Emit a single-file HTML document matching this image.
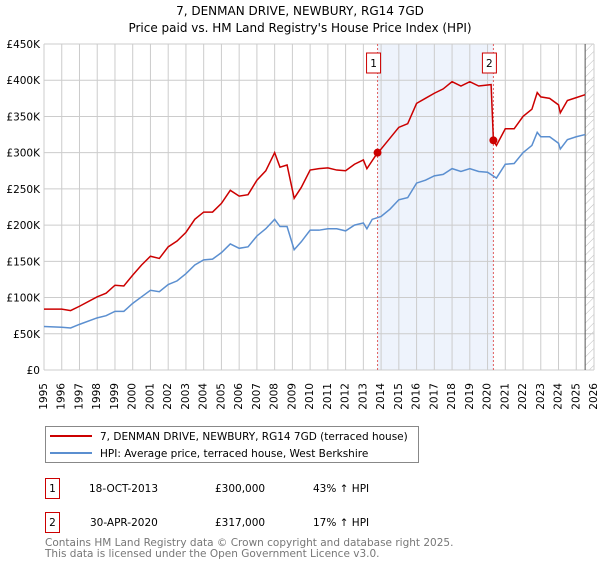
<!DOCTYPE html>
<html><head><meta charset="utf-8"><style>
body{margin:0;background:#fff;font-family:"DejaVu Sans","Liberation Sans",sans-serif;}
svg text{font-family:"DejaVu Sans","Liberation Sans",sans-serif;}
</style></head><body>
<svg id="c" width="600" height="560" viewBox="0 0 600 560" xmlns="http://www.w3.org/2000/svg">
<text x="300" y="15" text-anchor="middle" font-size="12">7, DENMAN DRIVE, NEWBURY, RG14 7GD</text>
<text x="300" y="32" text-anchor="middle" font-size="12">Price paid vs. HM Land Registry's House Price Index (HPI)</text>
<defs><pattern id="hatch" width="6" height="6" patternUnits="userSpaceOnUse" patternTransform="rotate(45)"><line x1="0" y1="0" x2="0" y2="6" stroke="#bbb" stroke-width="1"/></pattern></defs>
<g id="plot"></g>
<rect x="45.5" y="426.5" width="373" height="36" fill="#fff" stroke="#888"/>
<line x1="50" y1="436" x2="92" y2="436" stroke="#cc0000" stroke-width="2"/>
<text x="100" y="440" font-size="10.5">7, DENMAN DRIVE, NEWBURY, RG14 7GD (terraced house)</text>
<line x1="50" y1="453" x2="92" y2="453" stroke="#5b8fd0" stroke-width="2"/>
<text x="100" y="457" font-size="10.5">HPI: Average price, terraced house, West Berkshire</text>
<g font-size="10.5">
<rect x="45.5" y="478.5" width="14" height="20" fill="#fff" stroke="#cc0000"/>
<text x="52.5" y="492" text-anchor="middle">1</text>
<text x="89" y="492">18-OCT-2013</text><text x="215" y="492">£300,000</text><text x="313" y="492">43% ↑ HPI</text></g>
<g font-size="10.5">
<rect x="45.5" y="512.5" width="14" height="20" fill="#fff" stroke="#cc0000"/>
<text x="52.5" y="526" text-anchor="middle">2</text>
<text x="90" y="526">30-APR-2020</text><text x="215" y="526">£317,000</text><text x="313" y="526">17% ↑ HPI</text></g>
<text x="45" y="546" font-size="10.5" fill="#777">Contains HM Land Registry data © Crown copyright and database right 2025.</text>
<text x="45" y="557" font-size="10.5" fill="#777">This data is licensed under the Open Government Licence v3.0.</text>
</svg>
<script>
const hpiYears=[1995,1996,1996.5,1997,1998,1998.5,1999,1999.5,2000,2000.5,2001,2001.5,2002,2002.5,2003,2003.5,2004,2004.5,2005,2005.5,2006,2006.5,2007,2007.5,2008,2008.3,2008.7,2009.1,2009.5,2010,2010.5,2011,2011.5,2012,2012.5,2013,2013.2,2013.5,2014,2014.5,2015,2015.5,2016,2016.5,2017,2017.5,2018,2018.5,2019,2019.5,2020,2020.5,2021,2021.5,2022,2022.5,2022.8,2023,2023.5,2024,2024.1,2024.5,2025,2025.5];
const hpiValues=[60,59,58,63,72,75,81,81,92,101,110,108,118,123,133,145,152,153,162,174,168,170,185,195,208,198,198,166,177,193,193,195,195,192,200,203,195,208,212,222,235,238,258,262,268,270,278,274,278,274,273,265,284,285,300,310,328,322,322,313,305,318,322,325];
const priceYears=[1995,1996,1996.5,1997,1998,1998.5,1999,1999.5,2000,2000.5,2001,2001.5,2002,2002.5,2003,2003.5,2004,2004.5,2005,2005.5,2006,2006.5,2007,2007.5,2008,2008.3,2008.7,2009.1,2009.5,2010,2010.5,2011,2011.5,2012,2012.5,2013,2013.2,2013.8,2014,2014.5,2015,2015.5,2016,2016.5,2017,2017.5,2018,2018.5,2019,2019.5,2020.2,2020.33,2020.5,2021,2021.5,2022,2022.5,2022.8,2023,2023.5,2024,2024.1,2024.5,2025,2025.5];
const priceValues=[84,84,82,88,101,106,117,116,131,145,157,154,170,178,190,208,218,218,230,248,240,242,262,275,300,280,283,237,252,276,278,279,276,275,284,290,278,300,305,320,335,340,368,375,382,388,398,392,398,392,394,317,310,333,333,350,360,383,377,375,366,355,372,376,380];
const saleYears=[2013.8,2020.33];
const saleValues=[300,317];
const yTicks=[0,50,100,150,200,250,300,350,400,450];
const yTickLabels=["£0","£50K","£100K","£150K","£200K","£250K","£300K","£350K","£400K","£450K"];
const xTicks=[1995,1996,1997,1998,1999,2000,2001,2002,2003,2004,2005,2006,2007,2008,2009,2010,2011,2012,2013,2014,2015,2016,2017,2018,2019,2020,2021,2022,2023,2024,2025,2026];

const L=44,R=594,T=44,B=370,NS="http://www.w3.org/2000/svg";
const xs=y=>L+(y-1995)/(2026-1995)*(R-L);
const ys=v=>B-v/450*(B-T);
const g=document.getElementById('plot');
function mk(t,a){const e=document.createElementNS(NS,t);for(const k in a)e.setAttribute(k,a[k]);g.appendChild(e);return e;}
let e;
e=mk('rect',{x:xs(saleYears[0]),y:T,width:xs(saleYears[1])-xs(saleYears[0]),height:B-T,fill:'#eef3fc'});


e=mk('rect',{x:xs(2025.5),y:T,width:R-xs(2025.5),height:B-T,fill:'url(#hatch)'});


xTicks.forEach(t=>{
 e=mk('line',{x1:xs(t),x2:xs(t),y1:T,y2:B,stroke:'#ccc','stroke-width':1});
 
 
 const x=xs(t),y=383;
 e=mk('text',{x:x,y:y,'font-size':10.5,'text-anchor':'end','dominant-baseline':'middle',transform:`rotate(-90 ${x} ${y})`});
 e.textContent=t;
 
 
});
yTicks.forEach((t,i)=>{
 e=mk('line',{x1:L,x2:R,y1:ys(t),y2:ys(t),stroke:'#ccc','stroke-width':1});
 
 
 e=mk('text',{x:L-4,y:ys(t)+4,'font-size':10.5,'text-anchor':'end'});
 e.textContent=yTickLabels[i];
 
 
});
e=mk('line',{x1:xs(2025.5),x2:xs(2025.5),y1:T,y2:B,stroke:'#555','stroke-width':1});


saleYears.forEach((s,i)=>{
 e=mk('line',{x1:xs(s),x2:xs(s),y1:T,y2:B,stroke:'#e06060','stroke-width':1,'stroke-dasharray':'2,2'});
 
 
 e=mk('rect',{x:xs(s)-11,y:53,width:14,height:20,fill:'#fff',stroke:'#cc0000'});
 
 
 e=mk('text',{x:xs(s)-4,y:67,'font-size':10.5,'text-anchor':'middle'});
 e.textContent=i+1;
 
 
});
e=mk('polyline',{points:hpiYears.map((y,i)=>xs(y)+','+ys(hpiValues[i])).join(' '),fill:'none',stroke:'#5b8fd0','stroke-width':1.5});


e=mk('polyline',{points:priceYears.map((y,i)=>xs(y)+','+ys(priceValues[i])).join(' '),fill:'none',stroke:'#cc0000','stroke-width':1.5});


saleYears.forEach((s,i)=>{
 e=mk('circle',{cx:xs(s),cy:ys(saleValues[i]),r:4,fill:'#cc0000'});
 
 
});
</script>
</body></html>
